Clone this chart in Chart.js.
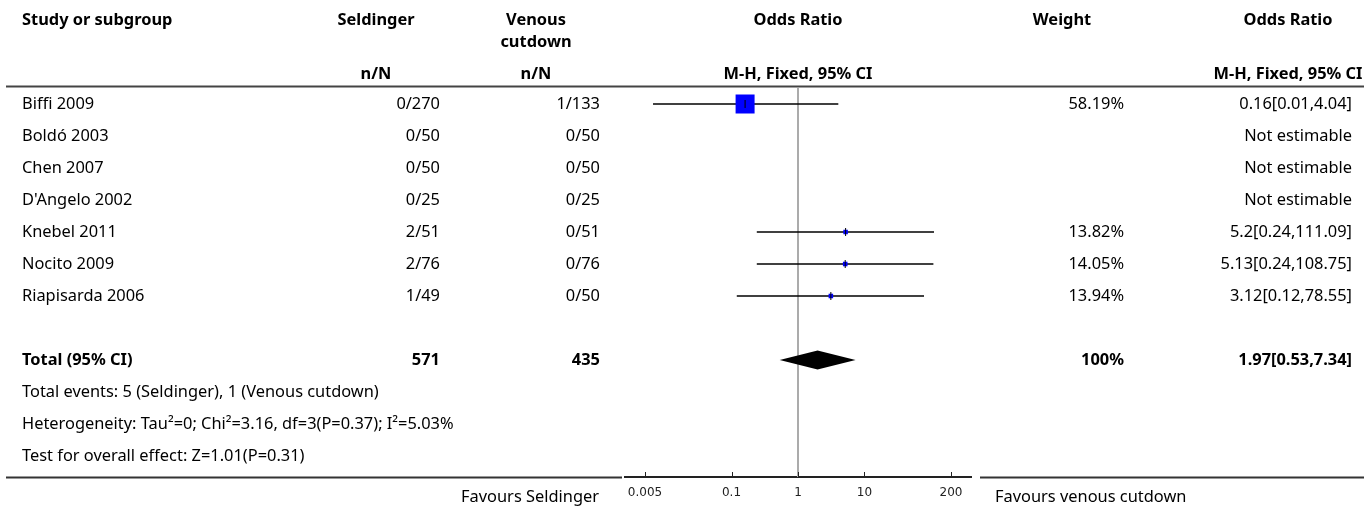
<!DOCTYPE html>
<html>
<head>
<meta charset="utf-8">
<title>Seldinger vs venous cutdown – forest plot</title>
<script src="https://cdn.jsdelivr.net/npm/chart.js@4/dist/chart.umd.min.js"></script>
<style>
  html, body { margin: 0; padding: 0; background: #ffffff; }
  #wrap { width: 1370px; height: 510px; position: relative; }
  canvas { display: block; }
</style>
</head>
<body>
<div id="wrap"><canvas id="forest" width="1370" height="510"></canvas></div>
<script>
// ---- study data ----
const studies = ['Biffi 2009', 'Boldó 2003', 'Chen 2007', "D'Angelo 2002", 'Knebel 2011', 'Nocito 2009', 'Riapisarda 2006'];
const seldingerEvents = [0, 0, 0, 0, 2, 2, 1];
const seldingerTotals = [270, 50, 50, 25, 51, 76, 49];
const cutdownEvents = [1, 0, 0, 0, 0, 0, 0];
const cutdownTotals = [133, 50, 50, 25, 51, 76, 50];
const oddsRatios = [0.16, null, null, null, 5.2, 5.13, 3.12];
const ciLower = [0.0066, null, null, null, 0.24, 0.24, 0.12];
const ciUpper = [4.04, null, null, null, 111.09, 108.75, 78.55];
const weights = [58.19, null, null, null, 13.82, 14.05, 13.94];

// ---- pooled result ----
const pooledOR = 1.97;
const pooledLower = 0.53;
const pooledUpper = 7.34;
const pooledWeight = 100;
const heterogeneityText = 'Heterogeneity: Tau\u00b2=0; Chi\u00b2=3.16, df=3(P=0.37); I\u00b2=5.03%';
const overallEffectText = 'Test for overall effect: Z=1.01(P=0.31)';

// ---- axis ----
const axisTicks = [0.005, 0.1, 1, 10, 200];
const axisMin = 0.0025;
const axisMax = 400;

// ---- layout ----
const TOTAL_ROW = 8;
const FOOT_ROWS = [9, 10, 11];
const ROW_PX = 32;
const PLOT_TOP = 88;
const PLOT_BOTTOM = 477;
const PLOT_LEFT = 625;
const PLOT_RIGHT = 971;
const COL = {
  studyX: 22,
  selRight: 440, selCenter: 376,
  cutRight: 600, cutCenter: 536,
  plotCenter: 798,
  weightRight: 1124, weightCenter: 1062,
  orRight: 1352, orCenter: 1288
};
const FACE = '"Noto Sans", "Open Sans", sans-serif';
const FONT = '16.4px ' + FACE;
const FONT_BOLD = 'bold 16.4px ' + FACE;
const SQUARE_MAX = 19;

const fmt = v => String(parseFloat(v.toFixed(2)));
const sum = a => a.reduce((s, v) => s + v, 0);
const maxWeight = Math.max(...weights.filter(w => w != null));

// ---- datasets ----
const estimable = studies.map((s, i) => i).filter(i => oddsRatios[i] != null);

const ciDatasets = estimable.map(i => ({
  type: 'line',
  data: [{ x: ciLower[i], y: i }, { x: ciUpper[i], y: i }],
  borderColor: '#000000',
  borderWidth: 1.5,
  pointRadius: 0,
  order: 3
}));

const squareDataset = {
  type: 'scatter',
  data: estimable.map(i => ({ x: oddsRatios[i], y: i })),
  pointStyle: 'rect',
  pointRadius: estimable.map(i => (SQUARE_MAX * weights[i] / maxWeight) / Math.SQRT2),
  backgroundColor: '#0000ff',
  borderWidth: 0,
  order: 2
};

const estimateTicks = {
  type: 'scatter',
  data: estimable.map(i => ({ x: oddsRatios[i], y: i })),
  pointStyle: 'line',
  rotation: 90,
  pointRadius: 4,
  borderColor: '#000000',
  borderWidth: 1,
  order: 1
};

// ---- drawing helpers ----
function text(ctx, s, x, y, align, font) {
  ctx.font = font;
  ctx.textAlign = align;
  ctx.textBaseline = 'middle';
  ctx.fillStyle = '#000000';
  ctx.fillText(s, x, y);
}
function hline(ctx, x1, x2, y, w, color) {
  ctx.beginPath();
  ctx.moveTo(x1, y);
  ctx.lineTo(x2, y);
  ctx.lineWidth = w;
  ctx.strokeStyle = color;
  ctx.stroke();
}

const forestDecor = {
  id: 'forestDecor',
  beforeDatasetsDraw(chart) {
    const ctx = chart.ctx, xs = chart.scales.x, area = chart.chartArea;
    const x1 = Math.round(xs.getPixelForValue(1));
    ctx.save();
    ctx.beginPath();
    ctx.moveTo(x1, PLOT_TOP);
    ctx.lineTo(x1, area.bottom);
    ctx.lineWidth = 2;
    ctx.strokeStyle = '#ababab';
    ctx.stroke();
    ctx.restore();
  },
  afterDatasetsDraw(chart) {
    const ctx = chart.ctx, xs = chart.scales.x, ys = chart.scales.y;
    const yc = ys.getPixelForValue(TOTAL_ROW);
    ctx.save();
    ctx.beginPath();
    ctx.moveTo(xs.getPixelForValue(pooledLower), yc);
    ctx.lineTo(xs.getPixelForValue(pooledOR), yc - 9.5);
    ctx.lineTo(xs.getPixelForValue(pooledUpper), yc);
    ctx.lineTo(xs.getPixelForValue(pooledOR), yc + 9.5);
    ctx.closePath();
    ctx.fillStyle = '#000000';
    ctx.fill();
    ctx.restore();
  },
  afterDraw(chart) {
    const ctx = chart.ctx, xs = chart.scales.x, ys = chart.scales.y, area = chart.chartArea;
    ctx.save();

    // rules
    hline(ctx, 6, 1364, 86.5, 2, '#444444');
    hline(ctx, 6, 622, area.bottom + 0.5, 2, '#333333');
    hline(ctx, 980, 1364, area.bottom + 0.5, 2, '#333333');

    // axis tick marks pointing up
    axisTicks.forEach(v => {
      const x = Math.round(xs.getPixelForValue(v)) + 0.5;
      ctx.beginPath();
      ctx.moveTo(x, area.bottom);
      ctx.lineTo(x, area.bottom - 5);
      ctx.lineWidth = 1;
      ctx.strokeStyle = '#222222';
      ctx.stroke();
    });

    // column headers
    text(ctx, 'Study or subgroup', COL.studyX, 20, 'left', FONT_BOLD);
    text(ctx, 'Seldinger', COL.selCenter, 20, 'center', FONT_BOLD);
    text(ctx, 'Venous', COL.cutCenter, 20, 'center', FONT_BOLD);
    text(ctx, 'cutdown', COL.cutCenter, 42.5, 'center', FONT_BOLD);
    text(ctx, 'Odds Ratio', COL.plotCenter, 20, 'center', FONT_BOLD);
    text(ctx, 'Weight', COL.weightCenter, 20, 'center', FONT_BOLD);
    text(ctx, 'Odds Ratio', COL.orCenter, 20, 'center', FONT_BOLD);
    text(ctx, 'n/N', COL.selCenter, 74, 'center', FONT_BOLD);
    text(ctx, 'n/N', COL.cutCenter, 74, 'center', FONT_BOLD);
    text(ctx, 'M-H, Fixed, 95% CI', COL.plotCenter, 74, 'center', FONT_BOLD);
    text(ctx, 'M-H, Fixed, 95% CI', COL.orCenter, 74, 'center', FONT_BOLD);

    // study rows
    studies.forEach((name, i) => {
      const y = ys.getPixelForValue(i);
      text(ctx, name, COL.studyX, y, 'left', FONT);
      text(ctx, seldingerEvents[i] + '/' + seldingerTotals[i], COL.selRight, y, 'right', FONT);
      text(ctx, cutdownEvents[i] + '/' + cutdownTotals[i], COL.cutRight, y, 'right', FONT);
      if (weights[i] != null) text(ctx, fmt(weights[i]) + '%', COL.weightRight, y, 'right', FONT);
      const orText = oddsRatios[i] != null
        ? fmt(oddsRatios[i]) + '[' + fmt(ciLower[i]) + ',' + fmt(ciUpper[i]) + ']'
        : 'Not estimable';
      text(ctx, orText, COL.orRight, y, 'right', FONT);
    });

    // pooled row
    const yt = ys.getPixelForValue(TOTAL_ROW);
    text(ctx, 'Total (95% CI)', COL.studyX, yt, 'left', FONT_BOLD);
    text(ctx, String(sum(seldingerTotals)), COL.selRight, yt, 'right', FONT_BOLD);
    text(ctx, String(sum(cutdownTotals)), COL.cutRight, yt, 'right', FONT_BOLD);
    text(ctx, fmt(pooledWeight) + '%', COL.weightRight, yt, 'right', FONT_BOLD);
    text(ctx, fmt(pooledOR) + '[' + fmt(pooledLower) + ',' + fmt(pooledUpper) + ']', COL.orRight, yt, 'right', FONT_BOLD);

    // summary lines
    const notes = [
      'Total events: ' + sum(seldingerEvents) + ' (Seldinger), ' + sum(cutdownEvents) + ' (Venous cutdown)',
      heterogeneityText,
      overallEffectText
    ];
    notes.forEach((s, k) => text(ctx, s, COL.studyX, ys.getPixelForValue(FOOT_ROWS[k]), 'left', FONT));

    // favours labels
    text(ctx, 'Favours Seldinger', PLOT_LEFT - 26, 497, 'right', FONT);
    text(ctx, 'Favours venous cutdown', PLOT_RIGHT + 24, 497, 'left', FONT);

    ctx.restore();
  }
};

new Chart(document.getElementById('forest'), {
  data: { datasets: [estimateTicks, squareDataset, ...ciDatasets] },
  options: {
    responsive: false,
    animation: false,
    devicePixelRatio: 1,
    layout: {
      autoPadding: false,
      padding: { left: PLOT_LEFT, right: 1370 - PLOT_RIGHT, top: PLOT_TOP, bottom: 0 }
    },
    plugins: { legend: { display: false }, tooltip: { enabled: false } },
    scales: {
      x: {
        type: 'logarithmic',
        min: axisMin,
        max: axisMax,
        afterBuildTicks: scale => { scale.ticks = axisTicks.map(v => ({ value: v })); },
        afterFit: scale => { scale.height = 510 - PLOT_BOTTOM; },
        ticks: {
          callback: v => String(v),
          autoSkip: false,
          maxRotation: 0,
          padding: 9,
          color: '#222222',
          font: { family: '"DejaVu Sans", sans-serif', size: 12 }
        },
        grid: { drawOnChartArea: false, drawTicks: false },
        border: { display: true, color: '#222222', width: 2 }
      },
      y: {
        type: 'linear',
        display: false,
        reverse: true,
        min: -0.5,
        max: -0.5 + (PLOT_BOTTOM - PLOT_TOP) / ROW_PX
      }
    }
  },
  plugins: [forestDecor]
});
</script>
</body>
</html>
